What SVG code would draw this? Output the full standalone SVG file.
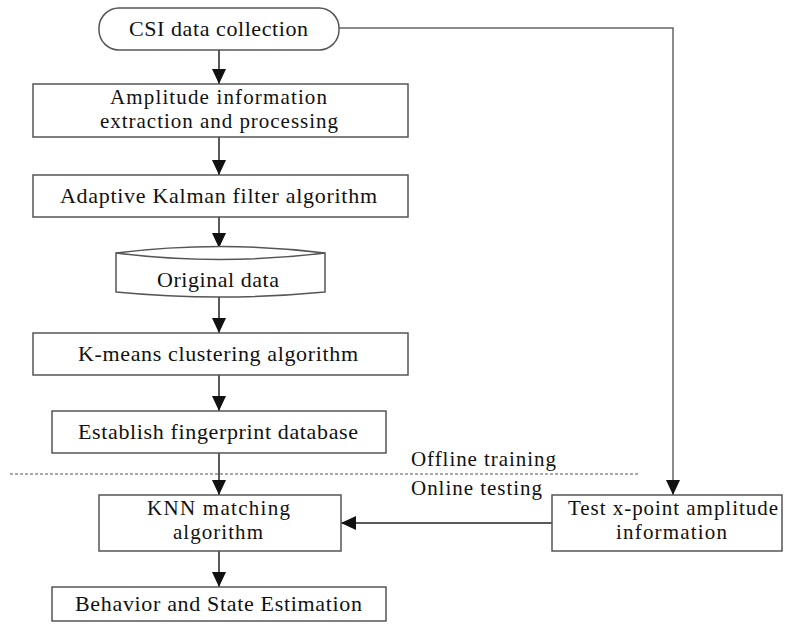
<svg xmlns="http://www.w3.org/2000/svg" width="785" height="624" viewBox="0 0 785 624">
<defs>
<marker id="arr" markerWidth="16" markerHeight="16" refX="15" refY="7" orient="auto" markerUnits="userSpaceOnUse">
<path d="M0,0 L15,7 L0,14 Z" fill="#111"/>
</marker>
<style>
.box{fill:#fff;stroke:#555;stroke-width:1.5}
.t{font-family:"Liberation Serif","Times New Roman",serif;font-size:22px;fill:#111}
.t2{font-family:"Liberation Serif","Times New Roman",serif;font-size:21px;fill:#111}
.c{stroke:#222;stroke-width:1.5;fill:none}
.g{stroke:#666;stroke-width:1.5;fill:none}
.d{stroke:#555;stroke-width:1;stroke-dasharray:3,2;fill:none}
</style>
</defs>
<rect width="785" height="624" fill="#fff"/>
<g id="connectors">
<line class="c" x1="219" y1="50" x2="219" y2="84" marker-end="url(#arr)"/>
<line class="c" x1="219" y1="137" x2="219" y2="175" marker-end="url(#arr)"/>
<line class="c" x1="219" y1="217" x2="219" y2="248" marker-end="url(#arr)"/>
<line class="c" x1="219" y1="296" x2="219" y2="333" marker-end="url(#arr)"/>
<line class="c" x1="219" y1="375" x2="219" y2="411" marker-end="url(#arr)"/>
<line class="c" x1="219" y1="453" x2="219" y2="495" marker-end="url(#arr)"/>
<line class="c" x1="219" y1="551" x2="219" y2="587" marker-end="url(#arr)"/>
<polyline class="g" points="339,28 673,28 673,495" marker-end="url(#arr)"/>
<line class="c" x1="552" y1="523" x2="341" y2="523" marker-end="url(#arr)"/>
</g>
<g id="divider">
<line class="d" x1="10" y1="474" x2="638" y2="474"/>
<text class="t2" x="411" y="466" textLength="145" lengthAdjust="spacing">Offline training</text>
<text class="t2" x="411" y="495" textLength="131" lengthAdjust="spacing">Online testing</text>
</g>
<g id="n1">
<rect class="box" x="99" y="8" width="240" height="42" rx="20" ry="20"/>
<text class="t" x="129" y="36" textLength="179" lengthAdjust="spacing">CSI data collection</text>
</g>
<g id="n2">
<rect class="box" x="33" y="84" width="375" height="53"/>
<text class="t2" x="110" y="104" textLength="217" lengthAdjust="spacing">Amplitude information</text>
<text class="t2" x="100" y="128" textLength="238" lengthAdjust="spacing">extraction and processing</text>
</g>
<g id="n3">
<rect class="box" x="33" y="175" width="375" height="42"/>
<text class="t" x="60" y="203" textLength="317" lengthAdjust="spacing">Adaptive Kalman filter algorithm</text>
</g>
<g id="n4">
<path class="box" d="M116,253 Q220,240 325,253 L325,292 Q220,302 116,292 Z"/>
<path class="box" d="M116,253 Q220,266 325,253" fill="none"/>
<text class="t" x="157" y="287" textLength="122" lengthAdjust="spacing">Original data</text>
</g>
<g id="n5">
<rect class="box" x="33" y="333" width="375" height="42"/>
<text class="t" x="78" y="361" textLength="280" lengthAdjust="spacing">K-means clustering algorithm</text>
</g>
<g id="n6">
<rect class="box" x="52" y="411" width="334" height="42"/>
<text class="t" x="78" y="439" textLength="280" lengthAdjust="spacing">Establish fingerprint database</text>
</g>
<g id="n7">
<rect class="box" x="99" y="495" width="242" height="56"/>
<text class="t2" x="147" y="515" textLength="143" lengthAdjust="spacing">KNN matching</text>
<text class="t2" x="173" y="539" textLength="90" lengthAdjust="spacing">algorithm</text>
</g>
<g id="n8">
<rect class="box" x="552" y="495" width="230" height="56"/>
<text class="t2" x="568" y="515" textLength="210" lengthAdjust="spacing">Test x-point amplitude</text>
<text class="t2" x="616" y="539" textLength="111" lengthAdjust="spacing">information</text>
</g>
<g id="n9">
<rect class="box" x="52" y="587" width="334" height="34"/>
<text class="t" x="75" y="611" textLength="287" lengthAdjust="spacing">Behavior and State Estimation</text>
</g>
</svg>
